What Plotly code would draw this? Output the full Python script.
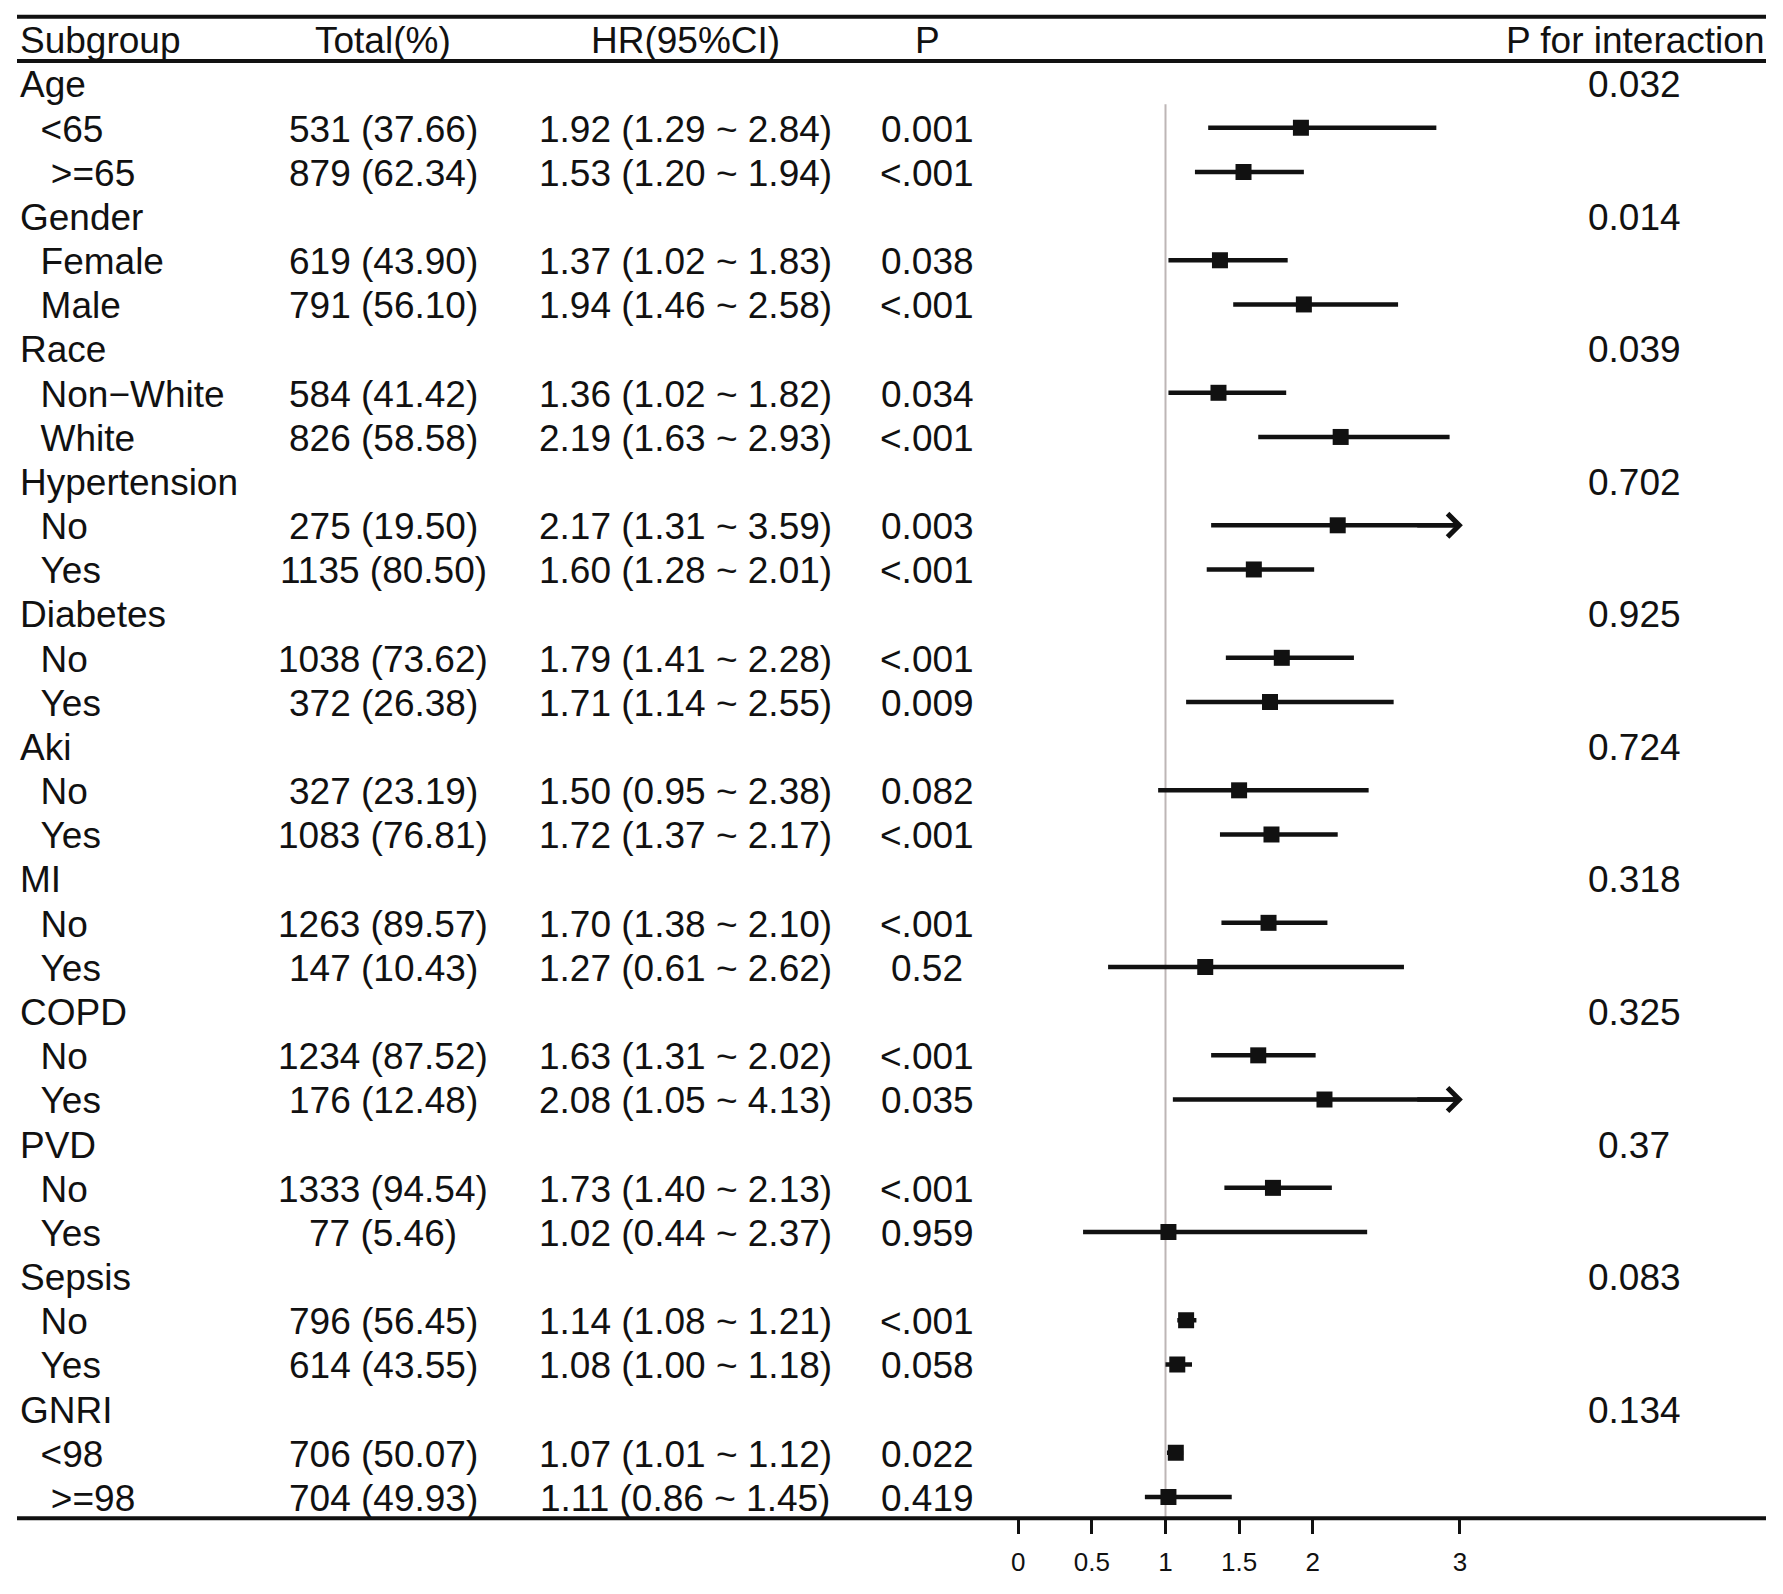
import plotly.graph_objects as go

# ---------------- data ----------------
headers = ["Subgroup", "Total(%)", "HR(95%CI)", "P", "P for interaction"]
groups = ["Age", "Gender", "Race", "Hypertension", "Diabetes", "Aki", "MI",
          "COPD", "PVD", "Sepsis", "GNRI"]
p_interaction = ["0.032", "0.014", "0.039", "0.702", "0.925", "0.724", "0.318",
                 "0.325", "0.37", "0.083", "0.134"]
subgroups = ["<65", " >=65", "Female", "Male", "Non\u2212White", "White",
             "No", "Yes", "No", "Yes", "No", "Yes", "No", "Yes",
             "No", "Yes", "No", "Yes", "No", "Yes", "<98", " >=98"]
n_total = [531, 879, 619, 791, 584, 826, 275, 1135, 1038, 372, 327, 1083,
           1263, 147, 1234, 176, 1333, 77, 796, 614, 706, 704]
pct_total = [37.66, 62.34, 43.90, 56.10, 41.42, 58.58, 19.50, 80.50, 73.62, 26.38,
             23.19, 76.81, 89.57, 10.43, 87.52, 12.48, 94.54, 5.46, 56.45, 43.55,
             50.07, 49.93]
hr = [1.92, 1.53, 1.37, 1.94, 1.36, 2.19, 2.17, 1.60, 1.79, 1.71, 1.50, 1.72,
      1.70, 1.27, 1.63, 2.08, 1.73, 1.02, 1.14, 1.08, 1.07, 1.11]
ci_low = [1.29, 1.20, 1.02, 1.46, 1.02, 1.63, 1.31, 1.28, 1.41, 1.14, 0.95, 1.37,
          1.38, 0.61, 1.31, 1.05, 1.40, 0.44, 1.08, 1.00, 1.01, 0.86]
ci_high = [2.84, 1.94, 1.83, 2.58, 1.82, 2.93, 3.59, 2.01, 2.28, 2.55, 2.38, 2.17,
           2.10, 2.62, 2.02, 4.13, 2.13, 2.37, 1.21, 1.18, 1.12, 1.45]
p_value = ["0.001", "<.001", "0.038", "<.001", "0.034", "<.001", "0.003", "<.001",
           "<.001", "0.009", "0.082", "<.001", "<.001", "0.52", "<.001", "0.035",
           "<.001", "0.959", "<.001", "0.058", "0.022", "0.419"]
# square positions as drawn in the picture (GNRI >=98 square sits near 1.02)
hr_marker = [1.92, 1.53, 1.37, 1.94, 1.36, 2.19, 2.17, 1.60, 1.79, 1.71, 1.50, 1.72,
             1.70, 1.27, 1.63, 2.08, 1.73, 1.02, 1.14, 1.08, 1.07, 1.02]
tick_vals = [0, 0.5, 1, 1.5, 2, 3]
tick_text = ["0", "0.5", "1", "1.5", "2", "3"]
ref_value = 1
clip_max = 3.0

# ------------- layout constants -------------
OFF = 8                              # page body margin
W, H = 1783 - OFF, 1594 - OFF
ROW0, ROW_H = 83.6 - OFF, 44.17      # pixel centre of first row, row pitch
TEXT_DY = 0.03                       # small downward nudge of text rows (row units)
RULE_TOP, RULE_HEAD, RULE_BOTTOM = 16.7 - OFF, 61.0 - OFF, 1518.3 - OFF
RULE_X0, RULE_X1 = 17 - OFF, 1766 - OFF
X0_PX, UNIT = 1018.3 - OFF, 147.2    # pixel of HR=0, pixels per unit
X_RANGE = [-0.2, 3.6]
FONT = "Liberation Sans, Arial, Helvetica, sans-serif"
FS = 37
INK = "#111111"
COL = dict(label=17.5 - OFF, total=383 - OFF, hr=685 - OFF, p=927 - OFF,
           pint=1634 - OFF, pint_head=1765.5 - OFF)

def px(x):
    return x / W

def py(y):
    return 1 - y / H

# build row structure
rows = []
si = 0
for gi, g in enumerate(groups):
    rows.append(("group", gi))
    for _ in range(2):
        rows.append(("sub", si))
        si += 1
row_of_sub = [i for i, r in enumerate(rows) if r[0] == "sub"]

annotations = []

def txt(x, y, s, anchor, size=FS):
    annotations.append(dict(x=x, y=y + TEXT_DY, xref="paper", yref="y", text=s,
                            showarrow=False, xanchor=anchor, yanchor="middle",
                            font=dict(family=FONT, size=size, color=INK)))

# header
hy = -1
txt(px(COL["label"]), hy, headers[0], "left")
txt(px(COL["total"]), hy, headers[1], "center")
txt(px(COL["hr"]), hy, headers[2], "center")
txt(px(COL["p"]), hy, headers[3], "center")
txt(px(COL["pint_head"]), hy, headers[4], "right")

for i, (kind, k) in enumerate(rows):
    if kind == "group":
        txt(px(COL["label"]), i, groups[k], "left")
        txt(px(COL["pint"]), i, p_interaction[k], "center")
    else:
        lab = "\u00a0\u00a0" + subgroups[k].replace(" ", "\u00a0")
        txt(px(COL["label"]), i, lab, "left")
        txt(px(COL["total"]), i, f"{n_total[k]} ({pct_total[k]:.2f})", "center")
        txt(px(COL["hr"]), i, f"{hr[k]:.2f} ({ci_low[k]:.2f} ~ {ci_high[k]:.2f})", "center")
        txt(px(COL["p"]), i, p_value[k], "center")

# CI lines
lx, ly = [], []
for k, r in enumerate(row_of_sub):
    hi = min(ci_high[k], clip_max)
    lx += [ci_low[k], hi, None]
    ly += [r, r, None]
    if ci_high[k] > clip_max:
        annotations.append(dict(x=clip_max + 0.02, y=r, xref="x", yref="y",
                                ax=clip_max - 0.3, ay=r, axref="x", ayref="y",
                                text="", showarrow=True, arrowhead=4, arrowsize=1.0,
                                arrowwidth=4.5, arrowcolor=INK, standoff=0,
                                startstandoff=0))

fig = go.Figure()
fig.add_trace(go.Scatter(x=lx, y=ly, mode="lines",
                         line=dict(color=INK, width=4.5), hoverinfo="skip"))
fig.add_trace(go.Scatter(x=hr_marker, y=row_of_sub, mode="markers",
                         marker=dict(symbol="square", size=16, color=INK,
                                     line=dict(width=0)),
                         hoverinfo="skip"))

y_top = (0 - ROW0) / ROW_H
y_bot = (RULE_BOTTOM - ROW0) / ROW_H

shapes = []
shapes.append(dict(type="line", xref="x", yref="y", x0=ref_value, x1=ref_value,
                   y0=0.47, y1=y_bot, layer="below",
                   line=dict(color="#bdb6b6", width=2)))
for yy in (RULE_TOP, RULE_HEAD, RULE_BOTTOM):
    shapes.append(dict(type="line", xref="paper", yref="paper",
                       x0=px(RULE_X0), x1=px(RULE_X1), y0=py(yy), y1=py(yy),
                       line=dict(color=INK, width=4)))

x_dom = [px(X0_PX + X_RANGE[0] * UNIT), px(X0_PX + X_RANGE[1] * UNIT)]

fig.update_layout(
    width=W, height=H,
    margin=dict(l=0, r=0, t=0, b=0),
    paper_bgcolor="white", plot_bgcolor="rgba(0,0,0,0)",
    showlegend=False,
    font=dict(family=FONT, color=INK),
    annotations=annotations,
    shapes=shapes,
    xaxis=dict(domain=x_dom, range=X_RANGE, anchor="y",
               tickmode="array", tickvals=tick_vals, ticktext=tick_text,
               ticks="outside", ticklen=15, tickwidth=3, tickcolor=INK,
               tickfont=dict(family=FONT, size=26, color=INK),
               ticklabelstandoff=5,
               showline=False, showgrid=False, zeroline=False, fixedrange=True),
    yaxis=dict(domain=[py(RULE_BOTTOM), 1], range=[y_bot, y_top],
               visible=False, showgrid=False, zeroline=False, fixedrange=True),
)

fig.write_html("out.html")
